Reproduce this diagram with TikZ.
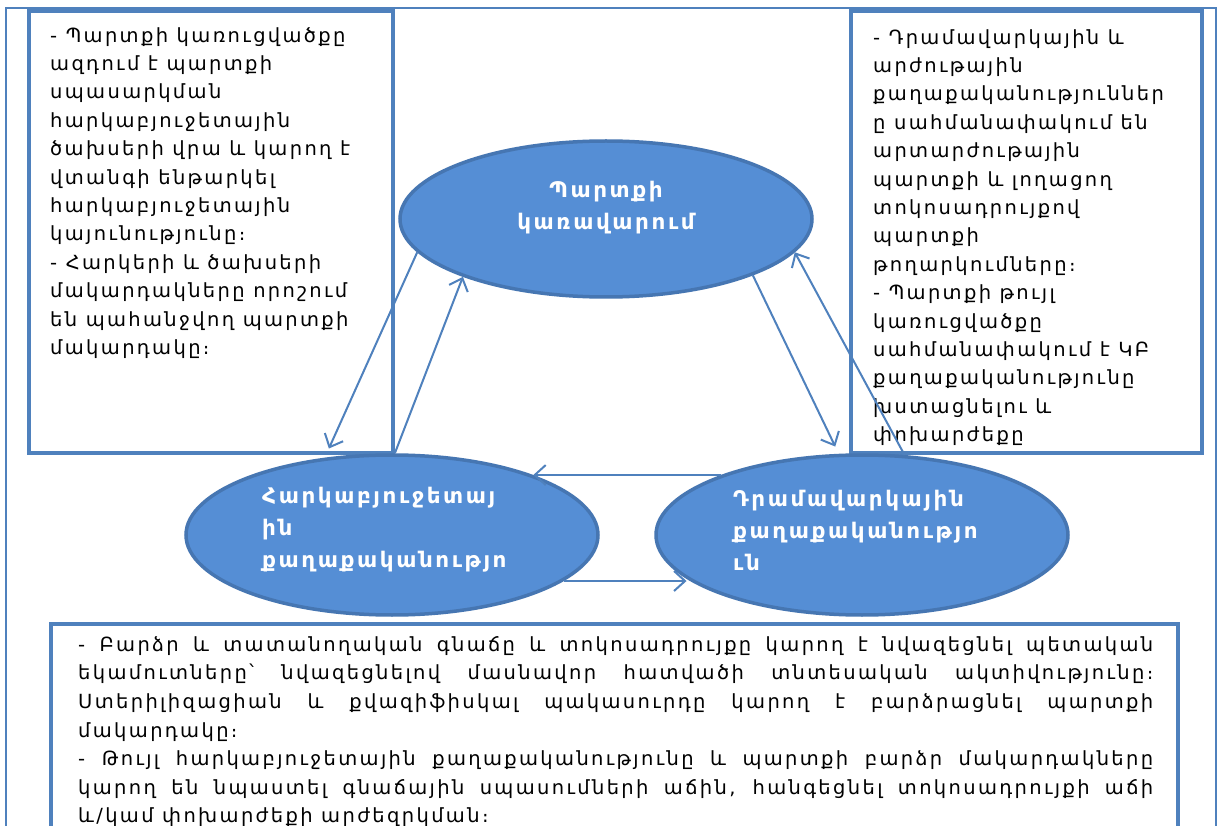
\documentclass[tikz,border=0pt]{standalone}
\usepackage{fontspec}
\newfontfamily\armf{DejaVu Sans}[LetterSpace=12]
\newfontfamily\armb{DejaVu Sans}[LetterSpace=12]
\usetikzlibrary{arrows.meta,shapes.geometric}
\definecolor{boxblue}{RGB}{79,129,189}
\definecolor{ellfill}{RGB}{85,142,213}
\definecolor{elldraw}{RGB}{70,118,178}
\tikzset{
  frame/.style={draw=boxblue, line width=1.4pt},
  tbox/.style={draw=boxblue, line width=4pt},
  body/.style={anchor=north west, inner sep=0pt, align=left, text=black,
    font=\armf\fontsize{19.5}{28.4}\selectfont},
  oval/.style={ellipse, draw=elldraw, line width=3.5pt, fill=ellfill,
    minimum width=412pt, minimum height=160pt, inner sep=0pt},
  ovtext/.style={text=white, inner sep=0pt,
    font=\armb\bfseries\fontsize{21.5}{32}\selectfont},
  conn/.style={draw=boxblue, line width=2pt,
    -{Straight Barb[length=11pt,width=20pt,line width=2pt]}}
}
\newcommand{\jl}[1]{\makebox[1075pt][s]{#1}}
\begin{document}
\begin{tikzpicture}[x=1pt,y=-1pt]
\clip (0,0) rectangle (1227,826);
\fill[white] (0,0) rectangle (1227,826);
% outer frame
\draw[frame] (6,8) rectangle (1216,900);
% boxes
\draw[tbox] (29,11) rectangle (393,453);
\draw[tbox] (851,11) rectangle (1202,453);
\draw[tbox] (51,624) rectangle (1178,900);
% box texts
\node[body] (lefttext) at (50,22) {\strut- Պարտքի կառուցվածքը\\
ազդում է պարտքի\\
սպասարկման\\
հարկաբյուջետային\\
ծախսերի վրա և կարող է\\
վտանգի ենթարկել\\
հարկաբյուջետային\\
կայունությունը։\\
- Հարկերի և ծախսերի\\
մակարդակները որոշում\\
են պահանջվող պարտքի\\
մակարդակը։};
\node[body] (righttext) at (873,24) {\strut- Դրամավարկային և\\
արժութային\\
քաղաքականություններ\\
ը սահմանափակում են\\
արտարժութային\\
պարտքի և լողացող\\
տոկոսադրույքով\\
պարտքի\\
թողարկումները։\\
- Պարտքի թույլ\\
կառուցվածքը\\
սահմանափակում է ԿԲ\\
քաղաքականությունը\\
խստացնելու և\\
փոխարժեքը};
\node[body, font=\armf\fontsize{19.5}{28.6}\selectfont] (bottomtext) at (78,631) {\strut\jl{- Բարձր և տատանողական գնաճը և տոկոսադրույքը կարող է նվազեցնել պետական}\\
\jl{եկամուտները՝ նվազեցնելով մասնավոր հատվածի տնտեսական ակտիվությունը։}\\
\jl{Ստերիլիզացիան և քվազիֆիսկալ պակասուրդը կարող է բարձրացնել պարտքի}\\
մակարդակը։\\
\jl{- Թույլ հարկաբյուջետային քաղաքականությունը և պարտքի բարձր մակարդակները}\\
\jl{կարող են նպաստել գնաճային սպասումների աճին, հանգեցնել տոկոսադրույքի աճի}\\
և/կամ փոխարժեքի արժեզրկման։};
% ellipses
\node[oval, minimum height=156pt] (top) at (606,219) {};
\node[oval] (left) at (392,535) {};
\node[oval] (right) at (862,535) {};
\node[ovtext, align=center] (toplabel) at (606,208) {Պարտքի\\կառավարում};
\node[ovtext, align=left, anchor=north west] (leftlabel) at (262,487) {Հարկաբյուջետայ\\ին\\քաղաքականությո};
\node[ovtext, align=left, anchor=north west] (rightlabel) at (733,490) {Դրամավարկային\\քաղաքականությո\\ւն};
% connectors
\draw[conn, shorten >=10pt] (top.190) -- (left.131);
\draw[conn] (left.88) -- (top.202);
\draw[conn, shorten >=8pt] (top.339) -- (right.106);
\draw[conn] (right.62) -- (top.350);
\draw[conn] (right.157) -- (left.23 |- right.157);
\draw[conn] (left.345.2) -- (right.194.8 |- left.345.2);
\end{tikzpicture}
\end{document}
